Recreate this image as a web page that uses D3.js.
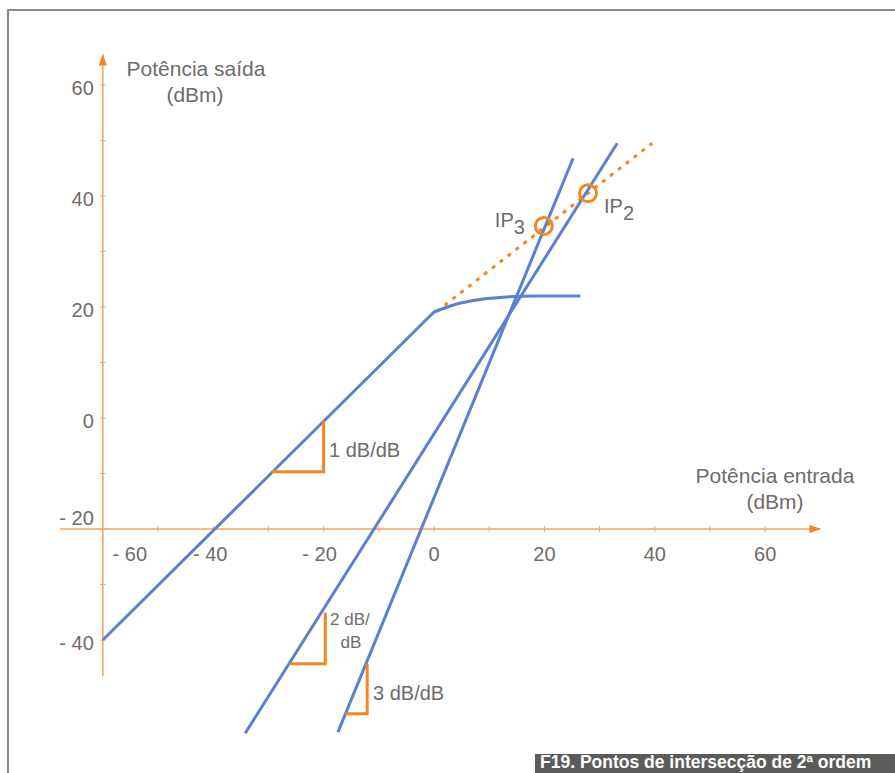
<!DOCTYPE html>
<html>
<head>
<meta charset="utf-8">
<script src="https://cdn.jsdelivr.net/npm/d3@7"></script>
<style>
  html, body { margin: 0; padding: 0; background: #fff; }
  svg { display: block; }
  text { font-family: "Liberation Sans", Arial, sans-serif; }
</style>
</head>
<body>
<svg id="chart" width="895" height="773"></svg>
<script>
// Output power vs input power of an amplifier: fundamental, 2nd and 3rd order products
const xTickMarks = [-50, -40, -30, -20, -10, 0, 10, 20, 30, 40, 50, 60];
const xTickLabels = [-60, -40, -20, 0, 20, 40, 60];
const yTickMarks = [-40, -30, -20, -10, 0, 10, 20, 30, 40, 50, 60];
const yTickLabels = [-40, -20, 0, 20, 40, 60];

// fundamental (1 dB/dB) linear region, [input dBm, output dBm]
const fundamentalLinear = [[-60, -40], [0, 19.1]];
// compression knee of the fundamental
const fundamentalKnee = [[0, 19.1], [4, 20.5], [8, 21.3], [13, 21.8], [18, 22], [26.5, 22]];
// linear extrapolation of the fundamental
const extrapolation = [[0.5, 19.2], [39.5, 49.5]];
// 2nd and 3rd order products
const secondOrder = [[-34.2, -56.8], [33.2, 49.5]];
const thirdOrder = [[-17.4, -56.6], [25.2, 46.8]];
// intercept points
const interceptPoints = [
  { name: "IP", sub: "2", x: 27.9, y: 40.5 },
  { name: "IP", sub: "3", x: 19.9, y: 34.6 }
];
// slope triangles: corner at (x, yTop) down to yBottom, left to xLeft
const slopeMarks = [
  { label: ["1 dB/dB"], x: -20, yTop: -0.6, yBottom: -9.7, xLeft: -29.4 },
  { label: ["2 dB/", "dB"], x: -19.7, yTop: -35.1, yBottom: -44.3, xLeft: -26.1 },
  { label: ["3 dB/dB"], x: -12.1, yTop: -44.3, yBottom: -53.3, xLeft: -16.1 }
];

const BLUE = "#5a80cf";
const ORANGE = "#f5851f";
const AXIS = "#f6a35e";
const TEXT = "#6f6b6b";

const svg = d3.select("#chart");
const x = d3.scaleLinear().domain([-60, 70]).range([102.8, 820.4]);
const y = d3.scaleLinear().domain([-40, 60]).range([640, 85]);

// frame
svg.append("path")
  .attr("d", "M8,773 L8,10 L895,10")
  .attr("fill", "none").attr("stroke", "#8c8c8c").attr("stroke-width", 2.2);

const axes = svg.append("g");
// y axis
axes.append("line")
  .attr("x1", x(-60)).attr("x2", x(-60))
  .attr("y1", y(65.5)).attr("y2", y(-46.5))
  .attr("stroke", AXIS).attr("stroke-width", 1.6);
// x axis
axes.append("line")
  .attr("x1", x(-67.8)).attr("x2", x(70))
  .attr("y1", y(-20)).attr("y2", y(-20))
  .attr("stroke", AXIS).attr("stroke-width", 1.6);

// arrow heads
axes.append("path")
  .attr("d", `M${x(-60) - 4},${y(63.5)} L${x(-60)},${y(65.5) - 1} L${x(-60) + 4},${y(63.5)} Z`)
  .attr("fill", ORANGE);
axes.append("path")
  .attr("d", `M${x(68)},${y(-20) - 4} L${x(70) + 1},${y(-20)} L${x(68)},${y(-20) + 4} Z`)
  .attr("fill", ORANGE);

// tick marks
axes.selectAll(".yt").data(yTickMarks).join("line")
  .attr("x1", x(-60) - 3).attr("x2", x(-60) + 3)
  .attr("y1", d => y(d)).attr("y2", d => y(d))
  .attr("stroke", AXIS).attr("stroke-width", 1);
axes.selectAll(".xt").data(xTickMarks).join("line")
  .attr("x1", d => x(d)).attr("x2", d => x(d))
  .attr("y1", y(-20) - 3).attr("y2", y(-20) + 3)
  .attr("stroke", AXIS).attr("stroke-width", 1);

const fmt = v => v < 0 ? "- " + Math.abs(v) : String(v);

// tick labels
svg.selectAll(".xl").data(xTickLabels).join("text")
  .attr("x", d => x(d) + (d === -60 ? 27 : (d === -40 ? -3 : (d === -20 ? -4 : 0))))
  .attr("y", y(-20) + 32)
  .attr("text-anchor", "middle")
  .attr("font-size", 20).attr("fill", TEXT)
  .text(fmt);
svg.selectAll(".yl").data(yTickLabels).join("text")
  .attr("x", x(-60) - 9)
  .attr("y", d => y(d) + 10 + (d === -20 ? -14 : 0))
  .attr("text-anchor", "end")
  .attr("font-size", 20).attr("fill", TEXT)
  .text(fmt);

// axis titles
const titles = [
  { lines: ["Potência saída", "(dBm)"], cx: 196, y0: 76, y1: 102, dx1: -1 },
  { lines: ["Potência entrada", "(dBm)"], cx: 775, y0: 483, y1: 509, dx1: 0 }
];
titles.forEach(t => {
  t.lines.forEach((s, i) => {
    svg.append("text")
      .attr("x", i === 0 ? t.cx : t.cx + t.dx1).attr("y", i === 0 ? t.y0 : t.y1)
      .attr("text-anchor", "middle")
      .attr("font-size", 21).attr("fill", TEXT)
      .text(s);
  });
});

const line = d3.line().x(d => x(d[0])).y(d => y(d[1]));
const knee = d3.line().x(d => x(d[0])).y(d => y(d[1])).curve(d3.curveMonotoneX);

// extrapolation (dotted)
svg.append("path")
  .attr("d", line(extrapolation))
  .attr("fill", "none").attr("stroke", ORANGE)
  .attr("stroke-width", 3).attr("stroke-dasharray", "4 6");

// product lines
[secondOrder, thirdOrder].forEach(s => {
  svg.append("path")
    .attr("d", line(s))
    .attr("fill", "none").attr("stroke", BLUE).attr("stroke-width", 3);
});

// fundamental
svg.append("path")
  .attr("d", line(fundamentalLinear) + knee(fundamentalKnee).replace(/^M[^CL]*/, ""))
  .attr("fill", "none").attr("stroke", BLUE).attr("stroke-width", 3)
  .attr("stroke-linejoin", "round");

// slope triangles
slopeMarks.forEach(m => {
  svg.append("path")
    .attr("d", `M${x(m.x)},${y(m.yTop)} L${x(m.x)},${y(m.yBottom)} L${x(m.xLeft)},${y(m.yBottom)}`)
    .attr("fill", "none").attr("stroke", ORANGE).attr("stroke-width", 3);
});
svg.append("text").attr("x", 329).attr("y", 457)
  .attr("font-size", 20).attr("fill", TEXT).text(slopeMarks[0].label[0]);
svg.append("text").attr("x", 330).attr("y", 625)
  .attr("font-size", 17).attr("fill", TEXT).text(slopeMarks[1].label[0]);
svg.append("text").attr("x", 351).attr("y", 648)
  .attr("font-size", 17).attr("fill", TEXT).attr("text-anchor", "middle").text(slopeMarks[1].label[1]);
svg.append("text").attr("x", 373).attr("y", 700)
  .attr("font-size", 20).attr("fill", TEXT).text(slopeMarks[2].label[0]);

// intercept points
svg.selectAll(".ip").data(interceptPoints).join("circle")
  .attr("cx", d => x(d.x)).attr("cy", d => y(d.y)).attr("r", 8.5)
  .attr("fill", "none").attr("stroke", ORANGE).attr("stroke-width", 3);

const ipOffsets = { "2": [16, 20], "3": [-49, 1] };
interceptPoints.forEach(p => {
  const o = ipOffsets[p.sub];
  const t = svg.append("text")
    .attr("x", x(p.x) + o[0]).attr("y", y(p.y) + o[1])
    .attr("font-size", 20).attr("fill", TEXT);
  t.append("tspan").text(p.name);
  t.append("tspan").attr("dy", 7).text(p.sub);
});

// caption
svg.append("rect")
  .attr("x", 535).attr("y", 754).attr("width", 360).attr("height", 19)
  .attr("fill", "#5b5b5b");
svg.append("text")
  .attr("x", 540).attr("y", 768)
  .attr("font-family", "'Open Sans', sans-serif")
  .attr("font-weight", "bold").attr("font-size", 17.5)
  .attr("fill", "#ffffff")
  .text("F19. Pontos de intersecção de 2ª ordem");
</script>
</body>
</html>
